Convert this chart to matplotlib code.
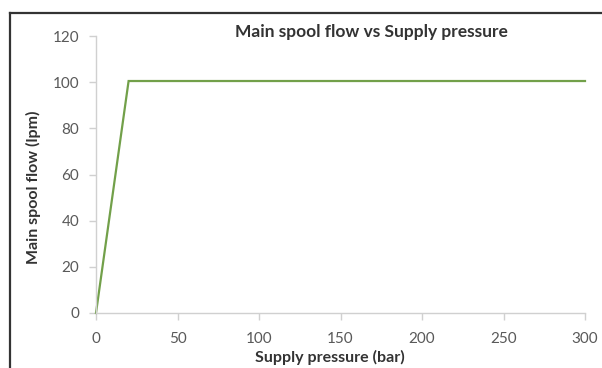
import matplotlib
matplotlib.use("Agg")
import matplotlib.pyplot as plt
from matplotlib.lines import Line2D

# Main spool flow as a function of supply pressure
pressure_bar = [0, 20, 300]
flow_lpm = [0, 100.5, 100.5]

x_ticks = [0, 50, 100, 150, 200, 250, 300]
y_ticks = [0, 20, 40, 60, 80, 100, 120]

plt.rcParams['font.family'] = ['Lato', 'DejaVu Sans']

fig = plt.figure(figsize=(6.02, 3.68), dpi=100)
ax = fig.add_axes([96 / 602, 1 - 313 / 368, (585 - 96) / 602, (313 - 36) / 368])

ax.plot(pressure_bar, flow_lpm, color='#72a04a', linewidth=1.6,
        solid_joinstyle='miter', clip_on=False)

ax.set_xlim(0, 300)
ax.set_ylim(0, 120)
ax.set_xticks(x_ticks)
ax.set_yticks(y_ticks)

for side in ('top', 'right'):
    ax.spines[side].set_visible(False)
for side in ('left', 'bottom'):
    ax.spines[side].set_color('#d0d0d0')
    ax.spines[side].set_linewidth(1.0)

ax.tick_params(axis='both', direction='out', length=5, width=1.0,
               color='#d0d0d0', labelcolor='#595959', labelsize=11)
ax.tick_params(axis='x', pad=9)
ax.tick_params(axis='y', pad=7)

ax.set_xlabel('Supply pressure (bar)', fontsize=11.5, fontweight='bold',
              color='#333333')
ax.set_ylabel('Main spool flow (lpm)', fontsize=11.5, fontweight='bold',
              color='#333333')
ax.xaxis.set_label_coords(0.4785, -0.134)
ax.yaxis.set_label_coords(-0.113, 0.455)

fig.text(371 / 602, 1 - 32 / 368, 'Main spool flow vs Supply pressure',
         ha='center', va='center', fontsize=12.5, fontweight='bold',
         color='#333333')

# Outer frame: only the top and left edges fall inside the canvas
fig.add_artist(Line2D([9.5 / 602, 9.5 / 602], [0, 1 - 13 / 368],
                      transform=fig.transFigure, color='#333333', linewidth=1.6))
fig.add_artist(Line2D([9.5 / 602, 1], [1 - 13 / 368, 1 - 13 / 368],
                      transform=fig.transFigure, color='#333333', linewidth=1.6))

fig.savefig('out.png', dpi=100)
